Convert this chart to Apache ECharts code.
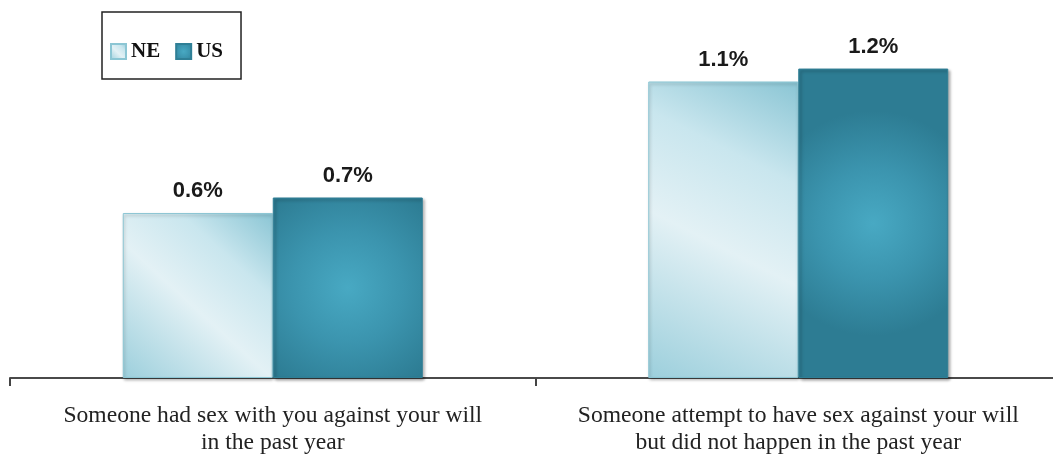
<!DOCTYPE html>
<html>
<head>
<meta charset="utf-8">
<script src="https://cdn.jsdelivr.net/npm/echarts@6/dist/echarts.min.js"></script>
<style>
html,body{margin:0;padding:0;background:#fff;}
#chart{width:1053px;height:455px;}
</style>
</head>
<body>
<div id="chart"></div>
<script>
var categories = [
  'Someone had sex with you against your will\nin the past year',
  'Someone attempt to have sex against your will\nbut did not happen in the past year'
];
var seriesNames = ['NE', 'US'];
var neValues = [0.64, 1.15];
var usValues = [0.70, 1.20];

var chart = echarts.init(document.getElementById('chart'));

var neColor = new echarts.graphic.LinearGradient(0, 1, 1, 0, [
  {offset: 0, color: '#9ccfdc'},
  {offset: 0.45, color: '#e3f1f5'},
  {offset: 0.72, color: '#c9e6ee'},
  {offset: 1, color: '#8ac5d4'}
]);
var usColor = new echarts.graphic.RadialGradient(0.5, 0.5, 0.75, [
  {offset: 0, color: '#48a9c3'},
  {offset: 0.5, color: '#3b94ae'},
  {offset: 1, color: '#2d7c93'}
]);

var labelStyle = {
  show: true,
  position: 'top',
  distance: 11,
  fontFamily: 'Liberation Sans, Arial, sans-serif',
  fontSize: 22,
  fontWeight: 'bold',
  color: '#1a1a1a',
  formatter: function (p) { return p.value.toFixed(1) + '%'; }
};

chart.setOption({
  animation: false,
  legend: {
    left: 102,
    top: 12,
    data: seriesNames,
    orient: 'horizontal',
    itemWidth: 15,
    itemHeight: 15,
    itemGap: 15,
    padding: [29, 18, 17, 8],
    borderColor: '#222',
    borderWidth: 1.5,
    icon: 'rect',
    textStyle: {
      fontFamily: 'Liberation Serif, Times New Roman, serif',
      fontWeight: 'bold',
      fontSize: 21,
      color: '#111'
    }
  },
  grid: {left: 10, width: 1051, top: 17, bottom: 77, containLabel: false, outerBoundsMode: 'none'},
  xAxis: {
    type: 'category',
    data: categories,
    axisLine: {show: true, lineStyle: {color: '#4a4a4a', width: 2}},
    axisTick: {show: true, length: 8, lineStyle: {color: '#444', width: 2}},
    axisLabel: {
      interval: 0,
      hideOverlap: false,
      margin: 24,
      fontFamily: 'Liberation Serif, Times New Roman, serif',
      fontSize: 23.6,
      lineHeight: 27,
      color: '#222'
    }
  },
  yAxis: {
    type: 'value',
    min: 0,
    max: 1.4,
    show: false,
    splitLine: {show: false}
  },
  series: [
    {
      name: seriesNames[0],
      type: 'bar',
      data: neValues,
      barWidth: 150,
      barGap: '0%',
      itemStyle: {
        color: neColor,
        borderColor: '#8cc6d4',
        borderWidth: 1,
        shadowColor: 'rgba(0,0,0,0.25)',
        shadowBlur: 3,
        shadowOffsetX: 1,
        shadowOffsetY: 2
      },
      label: labelStyle
    },
    {
      name: seriesNames[1],
      type: 'bar',
      data: usValues,
      barWidth: 150,
      barGap: '0%',
      itemStyle: {
        color: usColor,
        borderColor: '#2f7f96',
        borderWidth: 1,
        shadowColor: 'rgba(0,0,0,0.35)',
        shadowBlur: 3,
        shadowOffsetX: 2,
        shadowOffsetY: 2
      },
      label: labelStyle
    }
  ]
});
</script>
</body>
</html>
